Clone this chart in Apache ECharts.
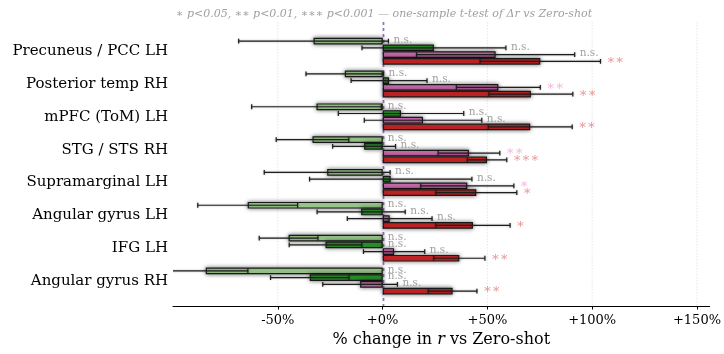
<!DOCTYPE html>
<html>
<head>
<meta charset="utf-8">
<script src="https://cdn.jsdelivr.net/npm/echarts@6/dist/echarts.min.js"></script>
<style>
  html, body { margin: 0; padding: 0; background: #ffffff; }
  #chart { width: 724px; height: 354px; }
</style>
</head>
<body>
<div id="chart"></div>
<script>
// Regions of interest, top to bottom
const regions = [
  'Precuneus / PCC LH', 'Posterior temp RH', 'mPFC (ToM) LH', 'STG / STS RH',
  'Supramarginal LH', 'Angular gyrus LH', 'IFG LH', 'Angular gyrus RH'
];

// Mean % change in r vs zero-shot, and half-width of the error bar, per condition
const lightGreenMean = [-33.0, -18.1, -31.6, -33.5, -26.5, -64.4, -44.9, -84.4];
const lightGreenErr  = [ 35.7,  18.5,  30.9,  17.3,  30.0,  23.8,  14.0,  20.1];
const darkGreenMean  = [ 24.4,   3.0,   8.7,  -8.9,   3.8, -10.3, -27.3, -34.8];
const darkGreenErr   = [ 34.3,  18.1,  29.9,  15.0,  38.7,  21.0,  17.3,  18.7];
const pinkMean       = [ 53.8,  55.1,  19.2,  41.1,  40.3,   3.3,   5.4, -10.8];
const pinkErr        = [ 37.7,  20.0,  28.0,  14.7,  22.2,  20.2,  14.6,  17.8];
const redMean        = [ 75.1,  70.6,  70.3,  49.7,  44.6,  43.0,  36.5,  33.3];
const redErr         = [ 28.7,  20.0,  20.0,   9.4,  19.3,  17.7,  12.2,  11.6];

// Significance marks per condition
const lightGreenSig = ['n.s.', 'n.s.', 'n.s.', 'n.s.', 'n.s.', 'n.s.', 'n.s.', 'n.s.'];
const darkGreenSig  = ['n.s.', 'n.s.', 'n.s.', 'n.s.', 'n.s.', 'n.s.', 'n.s.', 'n.s.'];
const pinkSig       = ['n.s.', '∗∗', 'n.s.', '∗∗', '∗', 'n.s.', 'n.s.', 'n.s.'];
const redSig        = ['∗∗', '∗∗', '∗∗', '∗∗∗', '∗', '∗', '∗∗', '∗∗'];

// X axis ticks (percent)
const xTicks = [-50, 0, 50, 100, 150];
const xMin = -100, xMax = 156;

const FONT = "'DejaVu Serif', 'Liberation Serif', serif";

const conditions = [
  { name: 'light green', mean: lightGreenMean, err: lightGreenErr, sig: lightGreenSig, color: '#a7db96', star: 'rgba(167,219,150,0.9)' },
  { name: 'dark green',  mean: darkGreenMean,  err: darkGreenErr,  sig: darkGreenSig,  color: '#2ca02c', star: 'rgba(44,160,44,0.6)' },
  { name: 'pink',        mean: pinkMean,       err: pinkErr,       sig: pinkSig,       color: '#e377c2', star: 'rgba(227,119,194,0.55)' },
  { name: 'red',         mean: redMean,        err: redErr,        sig: redSig,        color: '#d62728', star: 'rgba(214,39,40,0.5)' }
];

const CAT_GAP = 0.18;   // fraction of each category band left empty
const nCond = conditions.length;

const series = [];

// Vertical guides: dotted grid at ticks and dashed zero line (full plot height)
series.push({
  type: 'custom',
  xAxisIndex: 0, yAxisIndex: 0,
  z: 1, silent: true,
  data: xTicks.map(v => [v]),
  renderItem: function (params, api) {
    const cs = params.coordSys;
    const x = api.coord([api.value(0), 0])[0];
    return {
      type: 'line',
      shape: { x1: x, y1: cs.y, x2: x, y2: cs.y + cs.height },
      style: { stroke: '#e4e4e4', lineWidth: 0.9, lineDash: [1.5, 1.5] }
    };
  }
});
series.push({
  type: 'custom',
  xAxisIndex: 0, yAxisIndex: 0,
  z: 2, silent: true,
  data: [[0]],
  renderItem: function (params, api) {
    const cs = params.coordSys;
    const x = Math.round(api.coord([api.value(0), 0])[0]) + 0.5;
    return {
      type: 'line',
      shape: { x1: x, y1: cs.y, x2: x, y2: cs.y + cs.height },
      style: { stroke: 'rgba(148,103,189,0.95)', lineWidth: 1.7, lineDash: [3, 3] }
    };
  }
});

// Bars
conditions.forEach(function (c) {
  series.push({
    name: c.name,
    type: 'bar',
    xAxisIndex: 1, yAxisIndex: 1,
    z: 3,
    barGap: '0%',
    barCategoryGap: (CAT_GAP * 100) + '%',
    data: c.mean,
    itemStyle: {
      color: c.color,
      borderColor: '#1a1a1a',
      borderWidth: 1.2,
      shadowBlur: 4,
      shadowColor: 'rgba(0,0,0,0.55)'
    }
  });
});

// Error bars with caps, plus significance labels
conditions.forEach(function (c, k) {
  series.push({
    type: 'custom',
    xAxisIndex: 1, yAxisIndex: 1,
    z: 5, silent: true,
    clip: true,
    data: c.mean.map((m, i) => [m, i, c.err[i]]),
    renderItem: function (params, api) {
      const mean = api.value(0), cat = api.value(1), half = api.value(2);
      const band = api.size([0, 1])[1];
      const barW = band * (1 - CAT_GAP) / nCond;
      const off = (k - (nCond - 1) / 2) * barW;
      const lo = api.coord([mean - half, cat]);
      const hi = api.coord([mean + half, cat]);
      const zero = api.coord([0, cat]);
      const y = lo[1] + off;
      const cap = 2.4;
      const errStyle = { stroke: '#1e1e1e', lineWidth: 1.2, shadowBlur: 2, shadowColor: 'rgba(0,0,0,0.35)' };
      const sig = c.sig[params.dataIndex];
      const isNs = sig === 'n.s.';
      const tx = Math.max(hi[0], zero[0]) + (isNs ? 5 : 6);
      return {
        type: 'group',
        children: [
          { type: 'line', shape: { x1: lo[0], y1: y, x2: hi[0], y2: y }, style: errStyle },
          { type: 'line', shape: { x1: lo[0], y1: y - cap, x2: lo[0], y2: y + cap }, style: errStyle },
          { type: 'line', shape: { x1: hi[0], y1: y - cap, x2: hi[0], y2: y + cap }, style: errStyle },
          {
            type: 'text',
            x: tx, y: y - 1,
            style: {
              text: sig,
              fill: isNs ? '#a0a0a0' : c.star,
              font: (isNs ? '10.5px ' : '13px ') + FONT,
              align: 'left',
              verticalAlign: 'middle'
            }
          }
        ]
      };
    }
  });
});

const option = {
  animation: false,
  backgroundColor: '#ffffff',
  graphic: [{
    type: 'text',
    x: 384, y: 14,
    style: {
      text: '∗ p<0.05, ∗∗ p<0.01, ∗∗∗ p<0.001 — one-sample t-test of Δr vs Zero-shot',
      fill: '#a0a0a0',
      font: 'italic 11px ' + FONT,
      align: 'center',
      verticalAlign: 'middle'
    }
  }],
  grid: [
    { left: 173, right: 14, top: 22, bottom: 48, containLabel: false },
    { left: 173, right: 14, top: 34.8, bottom: 56.6, containLabel: false }
  ],
  xAxis: [
    {
      type: 'value', gridIndex: 0, min: xMin, max: xMax,
      axisLine: { show: true, lineStyle: { color: '#000', width: 1.2 } },
      axisTick: { show: true, length: 3.5, customValues: xTicks, lineStyle: { color: '#000', width: 1 } },
      axisLabel: {
        show: true, customValues: xTicks, margin: 8,
        color: '#000', fontSize: 13, fontFamily: FONT,
        formatter: v => (v < 0 ? '' : '+') + v + '%'
      },
      splitLine: { show: false },
      name: '{a|% change in }{i|r}{a| vs Zero-shot}',
      nameLocation: 'middle',
      nameGap: 26,
      nameTextStyle: {
        rich: {
          a: { fontSize: 16, fontFamily: FONT, color: '#000' },
          i: { fontSize: 16, fontFamily: FONT, color: '#000', fontStyle: 'italic' }
        }
      }
    },
    {
      type: 'value', gridIndex: 1, min: xMin, max: xMax, show: false,
      splitLine: { show: false }
    }
  ],
  yAxis: [
    { type: 'value', gridIndex: 0, min: 0, max: 1, show: false, splitLine: { show: false } },
    {
      type: 'category', gridIndex: 1, data: regions, inverse: true,
      axisLine: { show: false }, axisTick: { show: false },
      splitLine: { show: false },
      axisLabel: { color: '#000', fontSize: 15, fontFamily: FONT, margin: 5, interval: 0 }
    }
  ],
  series: series
};

const chart = echarts.init(document.getElementById('chart'), null, { renderer: 'canvas' });
chart.setOption(option);
</script>
</body>
</html>
